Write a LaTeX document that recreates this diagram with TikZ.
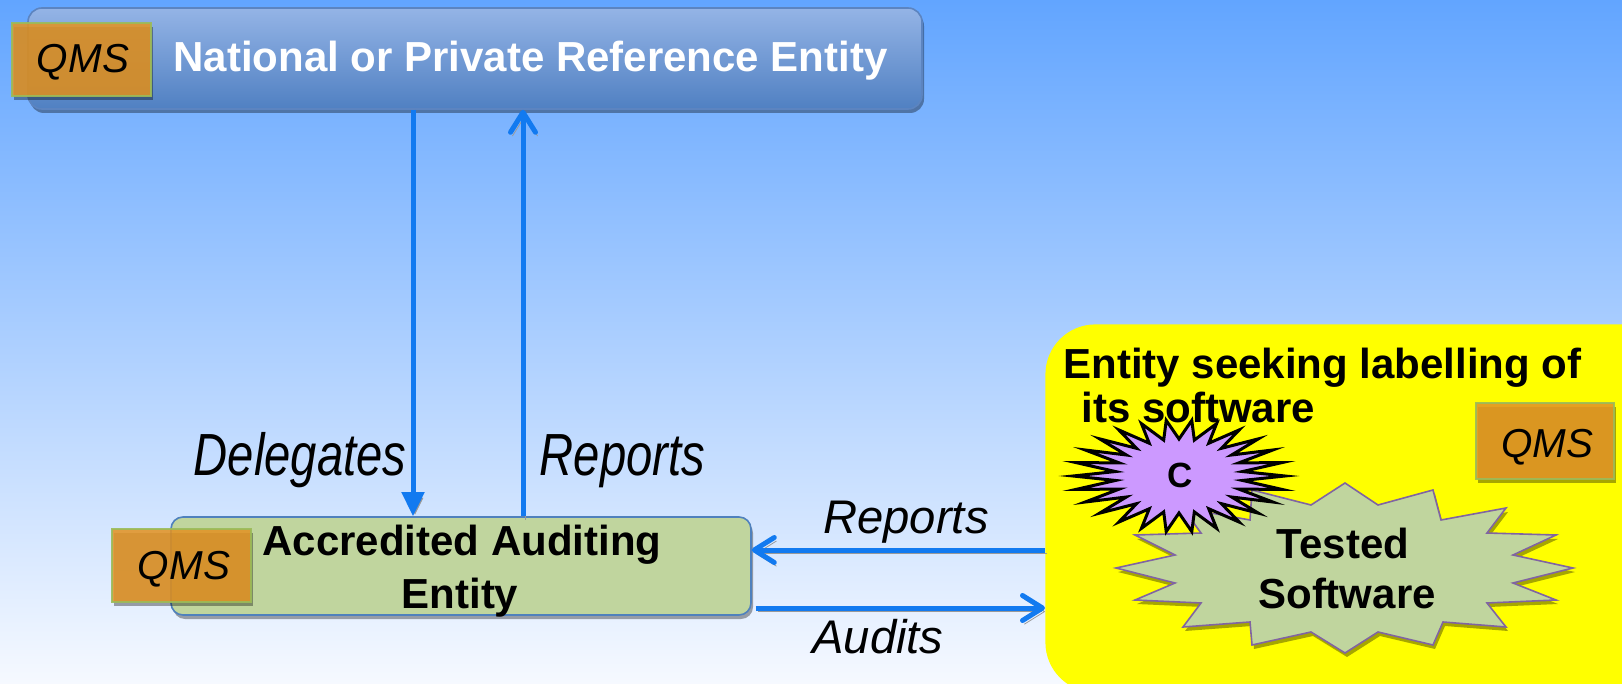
\documentclass[tikz,border=0pt]{standalone}
\usepackage{fontspec}
\usepackage{graphicx}
\setmainfont{Liberation Sans}
\usetikzlibrary{arrows.meta,shadows,calc}
\definecolor{bgtop}{RGB}{98,165,255}
\definecolor{bgbot}{RGB}{246,249,255}
\definecolor{navytop}{RGB}{148,180,230}
\definecolor{navybot}{RGB}{80,128,194}
\definecolor{navyline}{RGB}{92,132,192}
\definecolor{greenfill}{RGB}{192,213,158}
\definecolor{boxline}{RGB}{79,129,189}
\definecolor{qmsfill}{RGB}{226,148,38}
\definecolor{qmsline}{RGB}{155,187,89}
\definecolor{arrowblue}{RGB}{18,122,240}
\definecolor{lilac}{RGB}{204,153,255}
\definecolor{starline}{RGB}{128,100,162}
\definecolor{pureyellow}{RGB}{255,255,0}
\begin{document}
\begin{tikzpicture}[x=0.5pt,y=-0.5pt,
  shadowed/.style={drop shadow={shadow xshift=1pt,shadow yshift=-2pt,opacity=0.35,fill=black}},
  topbox/.style={draw=navyline,line width=0.8pt,rounded corners=7pt,top color=navytop,bottom color=navybot,shadowed,inner sep=0pt},
  greenbox/.style={draw=boxline,line width=0.8pt,rounded corners=6pt,fill=greenfill,shadowed,inner sep=0pt},
  qmsbox/.style={draw=qmsline,line width=1pt,fill=qmsfill,fill opacity=0.88,draw opacity=0.9,shadowed,inner sep=0pt},
  yellowbox/.style={fill=pureyellow,rounded corners=25pt,inner sep=0pt},
  bigtxt/.style={font=\bfseries\fontsize{21}{25}\selectfont,inner sep=0pt,anchor=base},
  qmstxt/.style={font=\itshape\fontsize{20.2}{24}\selectfont,inner sep=0pt,anchor=base},
  lbl/.style={font=\itshape\fontsize{23.6}{28}\selectfont,inner sep=0pt,anchor=base},
  flow/.style={draw=arrowblue,line width=2.5pt,preaction={draw=black!40,transform canvas={shift={(1pt,-1.8pt)}}}},
  barb/.style={-{Straight Barb[length=10pt,width=12.5pt,round]}},
  tri/.style={-{Triangle[length=12pt,width=11pt]}}
]
\useasboundingbox (0,0) rectangle (1622,684);
\clip (0,0) rectangle (1622,684);
\shade[top color=bgtop,bottom color=bgbot] (0,0) rectangle (1622,684);

% right entity
\node[yellowbox,minimum width=340pt,minimum height=184pt,anchor=north west] (ent) at (1045,324) {};

% top entity
\node[topbox,minimum width=447pt,minimum height=50.5pt] (nat) at (475,58.5) {};
\node[qmsbox,minimum width=69.5pt,minimum height=36.5pt] (qmsA) at (81.5,59.5) {};
\node[qmstxt] (qmsAt) at (83,73) {QMS};
\node[bigtxt,anchor=base west,text=white] (natt) at (173,72) {National or Private Reference Entity};

% auditing entity
\node[greenbox,minimum width=290pt,minimum height=49pt] (aud) at (461,566) {};
\node[qmsbox,minimum width=69.5pt,minimum height=36.5pt] (qmsB) at (181.5,565.5) {};
\node[qmstxt] (qmsBt) at (184,579) {QMS};
\node[bigtxt] (audt1) at (462,555) {Accredited Auditing};
\node[bigtxt] (audt2) at (460,608) {Entity};

% entity seeking labelling
\node[bigtxt,anchor=base west] (entt1) at (1063,378) {Entity seeking labelling of};
\node[bigtxt,anchor=base west] (entt2) at (1081,422) {its software};
\node[qmsbox,minimum width=69pt,minimum height=38pt] (qmsC) at (1545,441) {};
\node[qmstxt] (qmsCt) at (1547,457) {QMS};

% tested software burst
\filldraw[draw=starline,line width=0.8pt,fill=greenfill,shadowed,shift={(1345,568)}]
  (0,-85) -- (33,-63) -- (88,-78) -- (96,-48) -- (161,-60) -- (142,-35) -- (211,-33) -- (168,-13)
  -- (228,0) -- (168,15) -- (211,32) -- (142,35) -- (161,59) -- (98,54) -- (88,77) -- (33,64)
  -- (0,85) -- (-34,64) -- (-93,77) -- (-95,54) -- (-162,59) -- (-144,35) -- (-210,32) -- (-170,15)
  -- (-229,0) -- (-170,-13) -- (-210,-33) -- (-144,-35) -- (-162,-60) -- (-95,-48) -- (-93,-78) -- (-34,-63) -- cycle;
\node[bigtxt] (tst1) at (1343,558) {Tested};
\node[bigtxt] (tst2) at (1347,608) {Software};

% C burst
\filldraw[draw=black,line width=1.5pt,fill=lilac,shift={(1179,476)}]
  (106,0) \foreach \i in {1,...,51} { -- ({(85+21*cos(180*\i))*cos(\i*6.9230769)},{(46.5+9.5*cos(180*\i))*sin(\i*6.9230769)}) } -- cycle;
\node[font=\bfseries\fontsize{17.5}{20}\selectfont,inner sep=0pt,anchor=base] (ct) at (1180,487) {C};

% connectors
\coordinate (dx) at (413,0);
\coordinate (rx) at (523,0);
\coordinate (ry) at (0,550);
\coordinate (ay) at (0,608);
\draw[flow,tri] (nat.south -| dx) -- (aud.north -| dx);
\draw[flow,barb] (aud.north -| rx) -- (nat.south -| rx);
\draw[flow,barb] (ent.west |- ry) -- (aud.east |- ry);
\draw[flow,barb,shorten <=2pt] (aud.east |- ay) -- (ent.west |- ay);

% labels
\node[lbl] (ldel) at (300,475) {\scalebox{1}[1.26]{Delegates}};
\node[lbl] (lrep1) at (622.5,475) {\scalebox{1}[1.26]{Reports}};
\node[lbl] (lrep2) at (906,533) {Reports};
\node[lbl] (laud) at (878,653) {Audits};
\end{tikzpicture}
\end{document}
